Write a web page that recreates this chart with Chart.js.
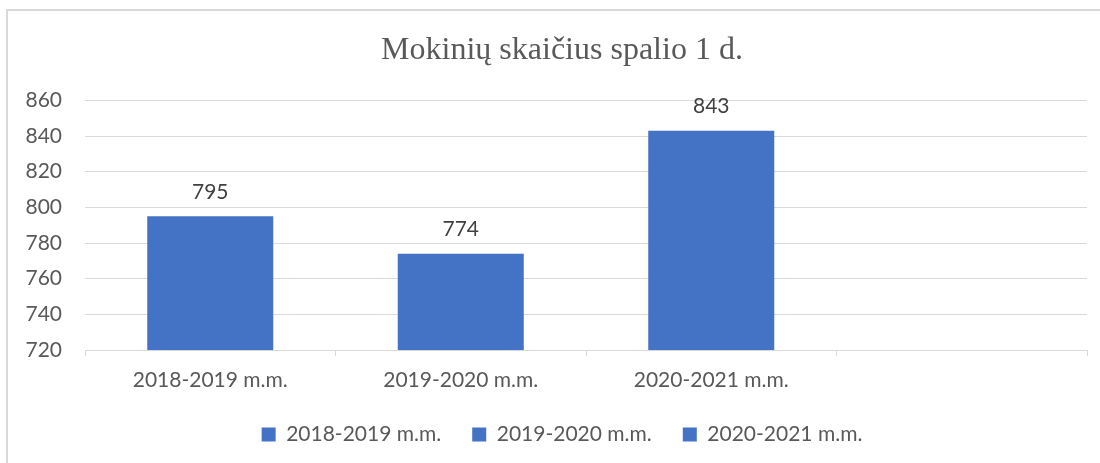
<!DOCTYPE html>
<html lang="lt">

<head>
    <meta charset="UTF-8">
    <title>Mokinių skaičius spalio 1 d.</title>
    <script src="https://cdn.jsdelivr.net/npm/chart.js"></script>
    <style>
        html, body {
            margin: 0;
            padding: 0;
            background: #fff;
            overflow: hidden;
        }
        .frame {
            position: absolute;
            left: 6px;
            top: 9px;
            width: 1200px;
            height: 600px;
            border: 2px solid #d9d9d9;
        }
        .wrap {
            position: absolute;
            left: 0;
            top: 0;
            width: 1100px;
            height: 463px;
            overflow: hidden;
        }
    </style>
</head>

<body>
    <div class="frame"></div>
    <div class="wrap"><canvas id="chart" width="1124" height="463"></canvas></div>

    <script>
        // data
        const categories = ['2018-2019 m.m.', '2019-2020 m.m.', '2020-2021 m.m.', ''];
        const students = [795, 774, 843, null];
        const yTicks = [720, 740, 760, 780, 800, 820, 840, 860];

        const barColor = '#4472c4';
        const textColor = '#595959';
        const gridColor = '#d9d9d9';
        const font = 'Lato';
        const fontSize = 21;

        // value labels above the bars
        const valueLabels = {
            id: 'valueLabels',
            afterDatasetsDraw(chart) {
                const ctx = chart.ctx;
                const meta = chart.getDatasetMeta(0);
                ctx.save();
                ctx.font = fontSize + 'px ' + font;
                ctx.fillStyle = '#404040';
                ctx.textAlign = 'center';
                ctx.textBaseline = 'middle';
                meta.data.forEach((bar, i) => {
                    const v = students[i];
                    if (v == null) return;
                    ctx.fillText(v, bar.x, bar.y - 24);
                });
                ctx.restore();
            }
        };

        new Chart(document.getElementById('chart'), {
            type: 'bar',
            data: {
                labels: categories,
                datasets: [{
                    label: 'Mokinių skaičius',
                    data: students,
                    backgroundColor: barColor,
                    barPercentage: 0.503,
                    categoryPercentage: 1
                }]
            },
            options: {
                responsive: false,
                animation: false,
                layout: {
                    padding: { left: 0, right: 0, top: 0, bottom: 8 }
                },
                scales: {
                    x: {
                        afterFit(scale) { scale.height = 43; },
                        grid: {
                            offset: true,
                            drawOnChartArea: false,
                            drawTicks: true,
                            tickLength: 6,
                            color: gridColor
                        },
                        border: { color: gridColor },
                        ticks: {
                            color: textColor,
                            font: { family: font, size: fontSize },
                            padding: 12
                        }
                    },
                    y: {
                        min: 720,
                        max: 860,
                        afterFit(scale) { scale.width = 85; },
                        afterBuildTicks(scale) {
                            scale.ticks = yTicks.map(v => ({ value: v }));
                        },
                        grid: {
                            color: gridColor,
                            drawTicks: false
                        },
                        border: { display: false },
                        ticks: {
                            color: textColor,
                            font: { family: font, size: fontSize },
                            padding: 23
                        }
                    },
                    // empty spacer on the right so the title sits where it does in the picture
                    spacer: {
                        position: 'right',
                        min: 720,
                        max: 860,
                        afterFit(scale) { scale.width = 37; },
                        grid: { drawOnChartArea: false, drawTicks: false },
                        border: { display: false },
                        ticks: { display: false }
                    }
                },
                plugins: {
                    title: {
                        display: true,
                        text: 'Mokinių skaičius spalio 1 d.',
                        color: textColor,
                        font: { family: 'Liberation Serif', size: 32, weight: 'normal' },
                        padding: { top: 31, bottom: 31 }
                    },
                    legend: {
                        position: 'bottom',
                        onClick: null,
                        labels: {
                            color: textColor,
                            font: { family: font, size: fontSize },
                            boxWidth: 14,
                            boxHeight: 14,
                            padding: 31,
                            generateLabels(chart) {
                                return categories.filter(c => c !== '').map((c, i) => ({
                                    text: c,
                                    fillStyle: barColor,
                                    strokeStyle: barColor,
                                    lineWidth: 0,
                                    hidden: false,
                                    index: i,
                                    datasetIndex: 0,
                                    fontColor: textColor
                                }));
                            }
                        }
                    },
                    tooltip: { enabled: false }
                }
            },
            plugins: [valueLabels]
        });
    </script>
</body>

</html>
